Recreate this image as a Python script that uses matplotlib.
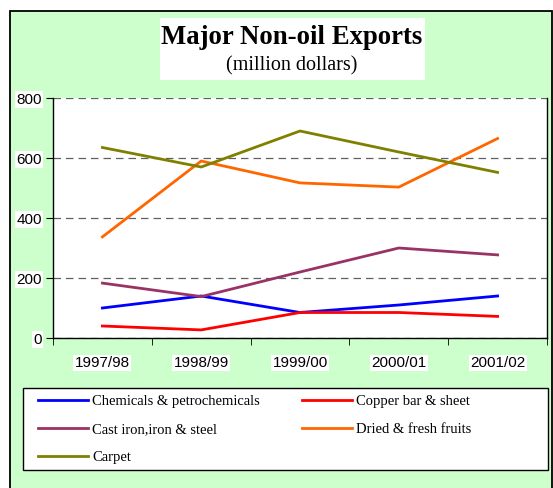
import numpy as np
import matplotlib.pyplot as plt
from matplotlib.patches import Rectangle

# Data
years = ['1997/98', '1998/99', '1999/00', '2000/01', '2001/02']
chemicals = [100, 140, 85, 110, 140]
copper = [40, 27, 85, 85, 72]
cast_iron = [183, 138, 220, 300, 277]
fruits = [337, 590, 517, 503, 665]
carpet = [635, 570, 690, 620, 552]

W, H = 553, 488
fig = plt.figure(figsize=(W / 100, H / 100), dpi=100)
fig.patch.set_facecolor('white')

# background axes: green chart area with black border, white title box, legend box
bg = fig.add_axes([0, 0, 1, 1], zorder=-10)
bg.set_xlim(0, W)
bg.set_ylim(H, 0)
bg.axis('off')
bg.add_patch(Rectangle((10, 11), 542, H, facecolor='#CCFFCC', edgecolor='black', lw=1.3))
bg.add_patch(Rectangle((160, 18), 265, 62, facecolor='white', edgecolor='none'))
bg.add_patch(Rectangle((23, 388), 525, 82, facecolor='white', edgecolor='black', lw=1))
bg.text(292, 37, 'Major Non-oil Exports', ha='center', va='center',
        family='Liberation Serif', fontweight='bold', fontsize=19.3)
bg.text(292, 66, '(million dollars)', ha='center', va='center',
        family='Liberation Serif', fontsize=14.5)

ax = fig.add_axes([53 / W, 1 - 338 / H, 494 / W, 240 / H])
ax.set_facecolor('white')

x = np.arange(len(years))
l1, = ax.plot(x, chemicals, color='#0000FF', lw=2, label='Chemicals & petrochemicals')
l2, = ax.plot(x, copper, color='#FF0000', lw=2, label='Copper bar & sheet')
l3, = ax.plot(x, cast_iron, color='#993366', lw=2, label='Cast iron,iron & steel')
l4, = ax.plot(x, fruits, color='#FF6600', lw=2, label='Dried & fresh fruits')
l5, = ax.plot(x, carpet, color='#808000', lw=2, label='Carpet')

ax.set_xlim(-0.5, len(years) - 0.5)
ax.set_ylim(0, 800)
ax.set_yticks([0, 200, 400, 600, 800])
ax.set_xticks(x)
ax.set_xticklabels(years)
ax.set_xticks(np.arange(-0.5, len(years), 1), minor=True)
ax.tick_params(axis='x', which='major', length=0, pad=13)
ax.tick_params(axis='x', which='minor', length=5, direction='out', color='black')
ax.tick_params(axis='y', length=5, direction='out', pad=3)
for lab in ax.get_xticklabels() + ax.get_yticklabels():
    lab.set_family('Liberation Sans')
    lab.set_fontsize(11)
    lab.set_bbox(dict(facecolor='white', edgecolor='none', pad=1))

ax.grid(axis='y', color='#606060', linestyle=(0, (6, 4)), lw=0.9)
for side in ['left', 'bottom', 'right']:
    ax.spines[side].set_color('black')
    ax.spines[side].set_linewidth(1)
ax.spines['top'].set_visible(False)

# legend filled row-wise as in the reference; frame drawn on bg
handles = [l1, l3, l5, l2, l4]
leg = fig.legend(handles=handles, labels=[h.get_label() for h in handles],
                 loc='upper left', bbox_to_anchor=(38 / W, 1 - 395 / H),
                 ncol=2, frameon=False, borderaxespad=0, borderpad=0,
                 prop={'family': 'Liberation Serif', 'size': 10.5}, handlelength=3.4,
                 handletextpad=0.3, labelspacing=1.0, columnspacing=2.9)

fig.savefig('out.png', dpi=100, facecolor=fig.get_facecolor())
